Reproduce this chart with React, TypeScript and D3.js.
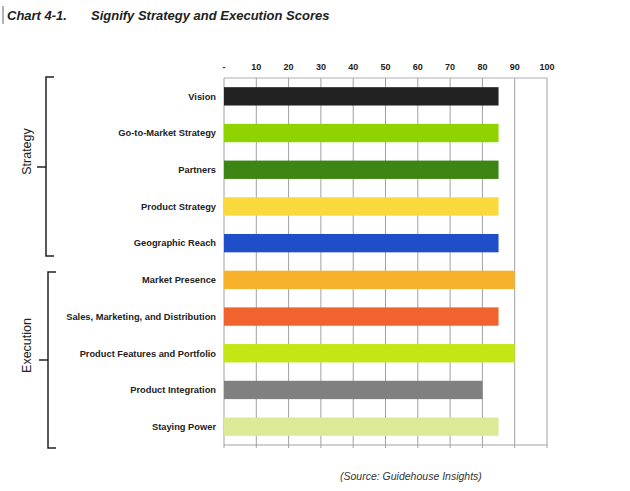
import React from "react";
import * as d3 from "d3";

const categories = [
  "Vision",
  "Go-to-Market Strategy",
  "Partners",
  "Product Strategy",
  "Geographic Reach",
  "Market Presence",
  "Sales, Marketing, and Distribution",
  "Product Features and Portfolio",
  "Product Integration",
  "Staying Power",
];
const scores = [85, 85, 85, 85, 85, 90, 85, 90, 80, 85];
const barColors = [
  "#222222",
  "#8fd400",
  "#3e8613",
  "#f9d93c",
  "#1f4fc8",
  "#f8b12a",
  "#f0632f",
  "#c3e614",
  "#808080",
  "#dcea97",
];
const tickValues = [0, 10, 20, 30, 40, 50, 60, 70, 80, 90, 100];
const tickLabels = ["-", "10", "20", "30", "40", "50", "60", "70", "80", "90", "100"];
const groups = [
  { name: "Strategy", first: 0, last: 4 },
  { name: "Execution", first: 5, last: 9 },
];
const title1 = "Chart 4-1.";
const title2 = "Signify Strategy and Execution Scores";
const source = "(Source: Guidehouse Insights)";

export default function App() {
  const W = 630;
  const H = 491;
  const left = 224;
  const right = 547;
  const top = 78;
  const bottom = 445;

  const x = d3.scaleLinear().domain([0, 100]).range([left, right]);
  const y = d3
    .scaleBand<string>()
    .domain(categories)
    .range([top, bottom])
    .paddingInner(0.5)
    .paddingOuter(0.25);

  const font = "'Liberation Sans', Arial, sans-serif";

  const bracketGeom = [
    { x: 46, y0: 77, y1: 256, mid: 167, lx: 31, ly: 151.5 },
    { x: 48, y0: 272, y1: 448, mid: 360, lx: 31, ly: 345.5 },
  ];

  return (
    <svg
      width={W}
      height={H}
      style={{ position: "absolute", left: 0, top: 0, background: "#fff" }}
      fontFamily={font}
    >
      <rect x={0} y={0} width={W} height={H} fill="#fff" />
      {/* title */}
      <line x1={3} x2={3} y1={6} y2={24} stroke="#999" strokeWidth={1.5} />
      <text x={7} y={20} fontSize={13} fontWeight="bold" fontStyle="italic" fill="#222">
        {title1}
      </text>
      <text x={91} y={20} fontSize={13} fontWeight="bold" fontStyle="italic" fill="#222">
        {title2}
      </text>

      {/* tick labels */}
      {tickValues.map((v, i) => (
        <text
          key={"t" + v}
          x={x(v)}
          y={70}
          fontSize={9}
          fontWeight="bold"
          textAnchor="middle"
          fill="#222"
        >
          {tickLabels[i]}
        </text>
      ))}

      {/* grid */}
      <line x1={left} x2={right} y1={top} y2={top} stroke="#b0b0b0" strokeWidth={1} />
      {tickValues.map((v) => (
        <line
          key={"g" + v}
          x1={x(v)}
          x2={x(v)}
          y1={top}
          y2={bottom + 3}
          stroke="#a0a0a0"
          strokeWidth={1}
        />
      ))}
      <line x1={left} x2={right} y1={bottom} y2={bottom} stroke="#a0a0a0" strokeWidth={1} />

      {/* bars */}
      {categories.map((c, i) => (
        <rect
          key={"b" + c}
          x={x(0)}
          y={y(c)!}
          width={x(scores[i]) - x(0)}
          height={y.bandwidth()}
          fill={barColors[i]}
        />
      ))}

      {/* category labels */}
      {categories.map((c) => (
        <text
          key={"l" + c}
          x={216}
          y={y(c)! + y.bandwidth() / 2}
          dy="0.35em"
          fontSize={9.3}
          fontWeight="bold"
          textAnchor="end"
          fill="#222"
        >
          {c}
        </text>
      ))}

      {/* brackets */}
      {groups.map((g, i) => {
        const b = bracketGeom[i];
        return (
          <g key={g.name}>
            <path
              d={`M${b.x + 8},${b.y0} L${b.x},${b.y0} L${b.x},${b.y1} L${b.x + 8},${b.y1} M${b.x},${b.mid} L${b.x - 9},${b.mid}`}
              fill="none"
              stroke="#222"
              strokeWidth={1.5}
            />
            <text
              transform={`translate(${b.lx},${b.ly}) rotate(-90)`}
              fontSize={12.5}
              textAnchor="middle"
              fill="#222"
            >
              {g.name}
            </text>
          </g>
        );
      })}

      {/* source */}
      <text x={340} y={480} fontSize={10.5} fontStyle="italic" fill="#333">
        {source}
      </text>
    </svg>
  );
}
